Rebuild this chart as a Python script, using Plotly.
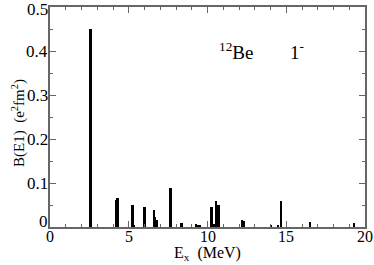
import plotly.graph_objects as go

energies = [2.58, 4.22, 4.30, 5.25, 5.33, 6.01, 6.60, 6.69, 6.81, 7.66, 8.36,
            9.27, 9.35, 9.45, 9.55, 10.27, 10.41, 10.56, 10.71, 12.19, 12.34,
            14.05, 14.50, 14.69, 16.51, 19.32]
be1 = [0.450, 0.062, 0.065, 0.051, 0.005, 0.045, 0.039, 0.022, 0.015, 0.089, 0.008,
       0.007, 0.004, 0.004, 0.004, 0.046, 0.007, 0.060, 0.049, 0.017, 0.013,
       0.004, 0.003, 0.060, 0.012, 0.010]
x_ticks = [0, 5, 10, 15, 20]
x_ticktext = ["0", "5", "10", "15", "20"]
y_ticks = [0, 0.1, 0.2, 0.3, 0.4, 0.5]
y_ticktext = ["0", "0.1", "0.2", "0.3", "0.4", "0.5"]

FONT = "Liberation Serif, Times New Roman, serif"
AX = "#666666"

fig = go.Figure()
fig.add_trace(go.Bar(x=energies, y=be1, width=0.11,
                     marker=dict(color="black", line=dict(width=0))))
fig.add_trace(go.Scatter(x=[0, 20], y=[0, 0.5], xaxis="x2", yaxis="y2",
                         mode="markers", marker=dict(opacity=0, size=1),
                         hoverinfo="skip"))

base = dict(showline=True, linecolor=AX, linewidth=1.5, mirror="ticks",
            ticks="inside", tickcolor=AX, tickwidth=1,
            showgrid=False, zeroline=False, automargin=False,
            showticklabels=False)

fig.update_layout(
    width=374, height=265, margin=dict(l=50, r=9, t=7, b=38),
    plot_bgcolor="white", paper_bgcolor="white", showlegend=False, bargap=0,
    font=dict(family=FONT, size=17, color="black"),
    xaxis=dict(range=[0, 20], tickmode="array", tickvals=x_ticks, ticklen=6, **base),
    yaxis=dict(range=[0, 0.5], tickmode="array", tickvals=y_ticks, ticklen=6, **base),
    xaxis2=dict(range=[0, 20], overlaying="x", side="bottom", anchor="y2",
                tickmode="linear", tick0=0, dtick=1, ticklen=3, **base),
    yaxis2=dict(range=[0, 0.5], overlaying="y", side="left", anchor="x2",
                tickmode="linear", tick0=0, dtick=0.05, ticklen=3, **base),
)

# tick labels placed on the axes' own scales
for v, t in zip(x_ticks, x_ticktext):
    fig.add_annotation(x=v, y=0, xref="x", yref="paper", showarrow=False,
                       xanchor="center", yanchor="top", yshift=0, text=t,
                       borderpad=0, font=dict(family=FONT, size=16, color="black"))
for v, t in zip(y_ticks, y_ticktext):
    shift = 6 if v == 0 else (-2 if v == 0.5 else 0)
    fig.add_annotation(x=0, y=v, xref="paper", yref="y", showarrow=False,
                       xanchor="right", yanchor="middle", xshift=-1,
                       yshift=shift, text=t, borderpad=0,
                       font=dict(family=FONT, size=17, color="black"))

fig.add_annotation(x=0.5, y=0, xref="paper", yref="paper", showarrow=False,
                   xanchor="center", yanchor="bottom", yshift=-37, borderpad=0,
                   text="E<sub>x</sub>&nbsp;&nbsp;(MeV)",
                   font=dict(family=FONT, size=16, color="black"))
fig.add_annotation(x=0, y=0.5, xref="paper", yref="paper", showarrow=False,
                   xanchor="center", yanchor="middle", xshift=-32, yshift=-6,
                   textangle=-90,
                   text="B(E1)&nbsp;&nbsp;(e<sup>2</sup>fm<sup>2</sup>)",
                   font=dict(family=FONT, size=15, color="black"))

fig.add_annotation(x=11.8, y=0.401, xref="x", yref="y", showarrow=False,
                   xanchor="center", yanchor="middle",
                   text="<sup>12</sup>Be", font=dict(family=FONT, size=19, color="black"))
fig.add_annotation(x=15.7, y=0.401, xref="x", yref="y", showarrow=False,
                   xanchor="center", yanchor="middle",
                   text="1<sup>-</sup>", font=dict(family=FONT, size=19, color="black"))

fig.write_html("out.html", config={"displayModeBar": False},
               post_script="document.body.style.margin='0';document.body.style.padding='0';")
